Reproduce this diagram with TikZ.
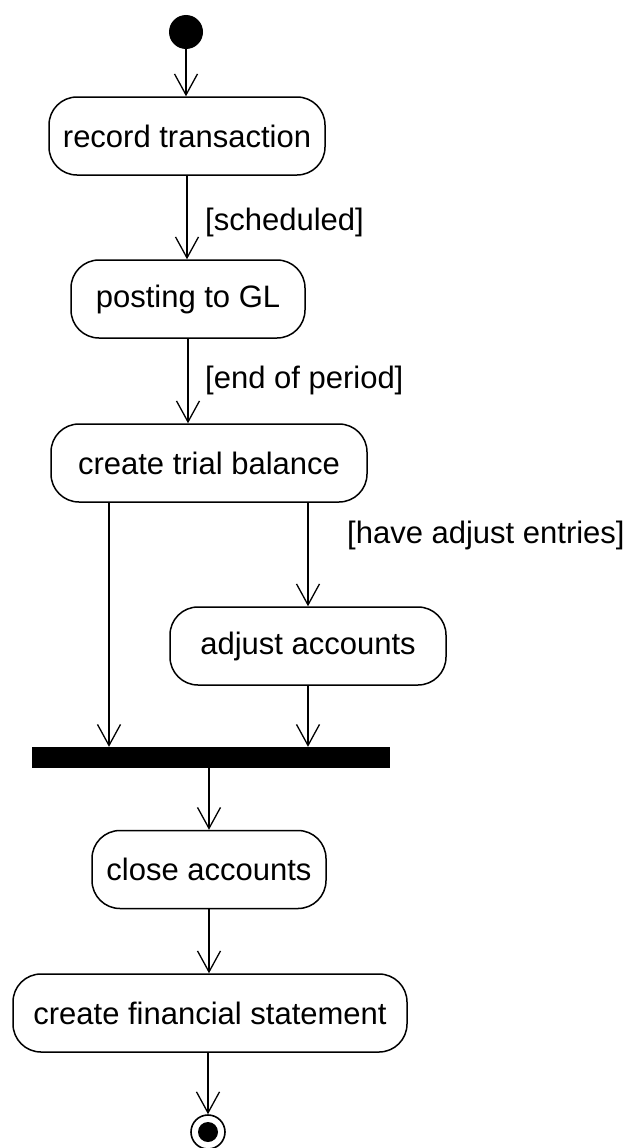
\documentclass[tikz,border=0pt]{standalone}
\usepackage{fontspec}
\setmainfont{Liberation Sans}
\usetikzlibrary{arrows.meta}
\begin{document}
\begin{tikzpicture}[x=1pt,y=-1pt,
  every node/.style={font=\fontsize{31}{36}\selectfont},
  activity/.style={draw, line width=1.5pt, rounded corners=28pt,
    minimum height=78pt, inner sep=0pt},
  flow/.style={line width=1.3pt,
    -{Straight Barb[length=21pt,width=23pt,line width=1.3pt]}},
  guard/.style={anchor=west, inner sep=0pt},
  initial/.style={circle, fill=black, minimum size=34pt, inner sep=0pt},
  final/.style={circle, draw, line width=1.6pt, minimum size=34pt, inner sep=0pt},
  finalcore/.style={circle, fill=black, minimum size=20pt, inner sep=0pt},
  syncbar/.style={fill=black, minimum width=358pt, minimum height=21pt, inner sep=0pt}]
\useasboundingbox (0,0) rectangle (634,1148);

% activity states
\node[initial] (start) at (186,32) {};
\node[activity, minimum width=276pt] (record) at (187,136) {record transaction};
\node[activity, minimum width=234pt] (posting) at (188,299) {posting to GL};
\node[activity, minimum width=316pt] (trial) at (209,463) {create trial balance};
\node[activity, minimum width=276pt] (adjust) at (308,646) {adjust accounts};
\node[syncbar] (bar) at (211,757.5) {};
\node[activity, minimum width=234pt] (close) at (209,869.5) {close accounts};
\node[activity, minimum width=394pt] (fin) at (210,1013) {create financial statement};
\node[final] (end) at (208,1132) {};
\node[finalcore] (endcore) at (end.center) {};

% transitions
\draw[flow] (start) -- (start.south |- record.north);
\draw[flow] (record.south) -- (record.south |- posting.north);
\draw[flow] (posting.south) -- (posting.south |- trial.north);
\draw[flow] ([xshift=-100pt]trial.south) -- ([xshift=-100pt]trial.south |- bar.north);
\draw[flow] (trial.south -| adjust.north) -- (adjust.north);
\draw[flow] (adjust.south) -- (adjust.south |- bar.north);
\draw[flow] (close.north |- bar.south) -- (close.north);
\draw[flow] (close.south) -- (close.south |- fin.north);
\draw[flow] (end.north |- fin.south) -- (end.north);

% guard conditions
\node[guard] (g1) at (205,222) {[scheduled]};
\node[guard] (g2) at (205,380) {[end of period]};
\node[guard] (g3) at (347,535) {[have adjust entries]};
\end{tikzpicture}
\end{document}
